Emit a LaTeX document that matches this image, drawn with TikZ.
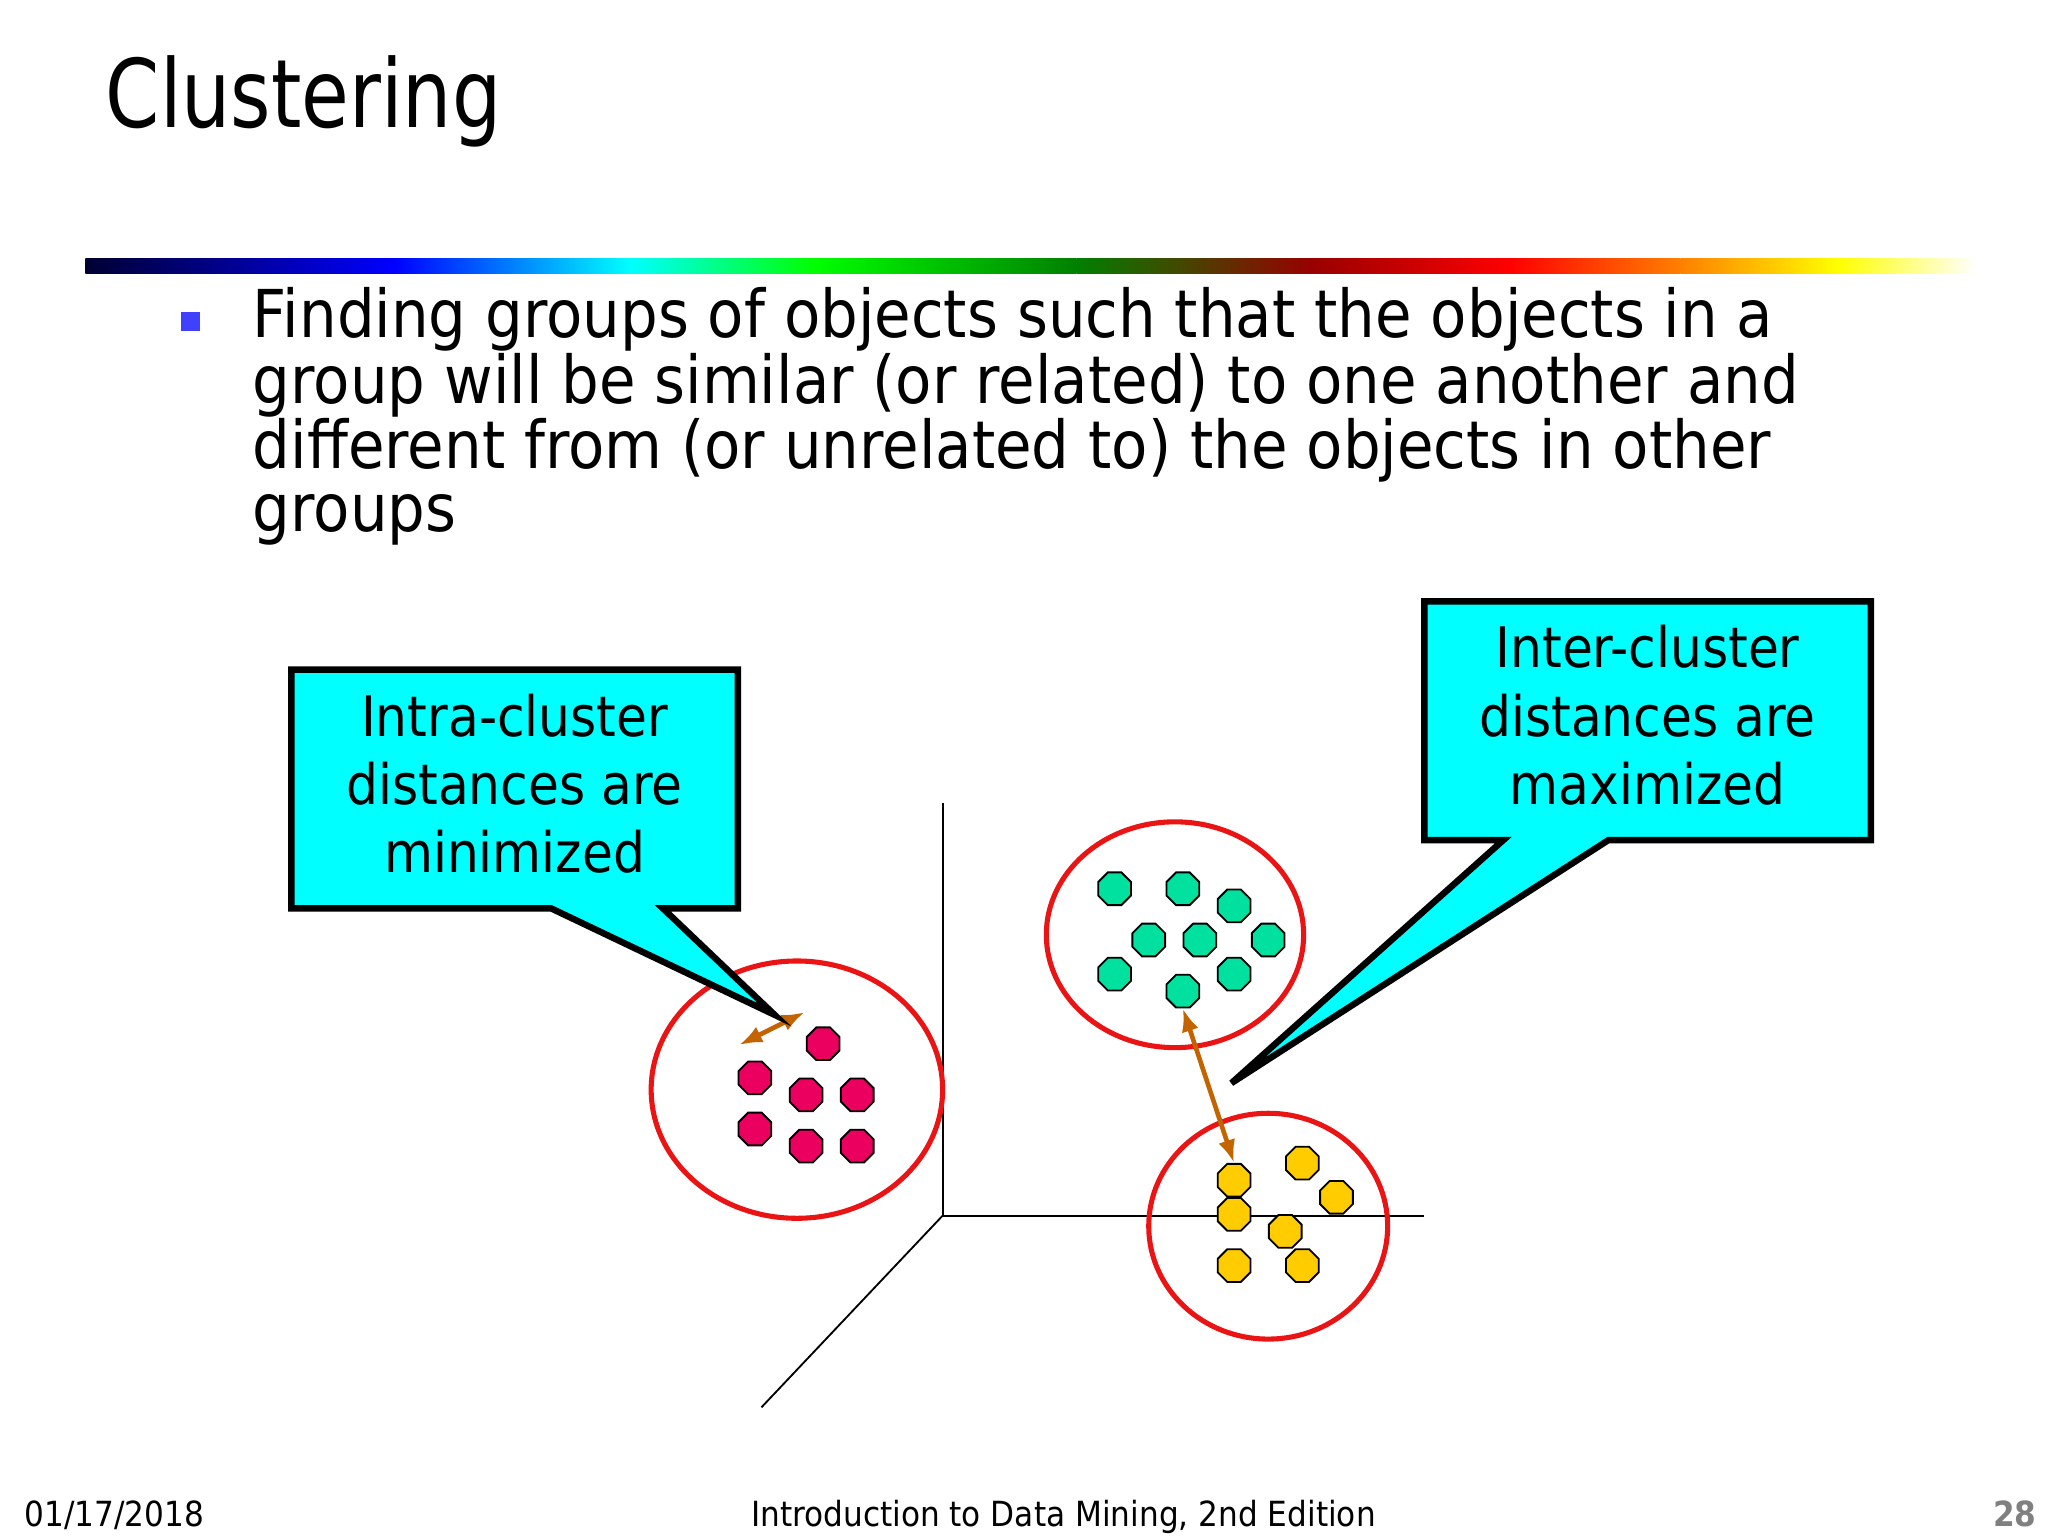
\documentclass[tikz,border=0pt]{standalone}
\usepackage{fontspec}
\setmainfont{DejaVu Sans}
\newfontfamily\slidefont[FakeStretch=0.9]{DejaVu Sans}
\newfontfamily\titlefont[FakeStretch=0.82]{DejaVu Sans}
\usetikzlibrary{shapes.geometric, arrows.meta, calc}
\definecolor{callcyan}{RGB}{0,255,255}
\definecolor{ptpink}{RGB}{235,0,95}
\definecolor{ptgreen}{RGB}{0,225,160}
\definecolor{ptyellow}{RGB}{255,204,0}
\definecolor{distarrow}{RGB}{195,100,0}
\definecolor{ringred}{RGB}{235,20,20}
\tikzset{
    octpt/.style={regular polygon, regular polygon sides=8, draw=black, thin, minimum size=27pt*0.01/0.03515, inner sep=0pt},
    ring/.style={draw=ringred, line width=1.1pt},
    callout/.style={fill=callcyan, draw=black, line width=1.4pt, line join=miter},
    calltext/.style={align=center, font=\slidefont\fontsize{12.1}{14.8}\selectfont},
    axisline/.style={black, thin},
    distline/.style={{Latex[length=5pt]}-{Latex[length=5pt]}, distarrow, line width=1pt},
    bodytext/.style={anchor=base west, inner sep=0pt, font=\slidefont\fontsize{14.3}{16}\selectfont},
    foot/.style={anchor=base, inner sep=0pt, font=\slidefont\fontsize{7.5}{9}\selectfont}
}
\begin{document}
\begin{tikzpicture}[x=0.01cm, y=-0.01cm]
    \useasboundingbox (0,0) rectangle (1560,1170);
    % title and rule
    \node[anchor=base west, inner sep=0pt, font=\titlefont\fontsize{20.5}{24}\selectfont] (title) at (80,97) {Clustering};
    \shade[left color=black!80!blue, right color=blue] (65,197) rectangle (300,208);
    \shade[left color=blue, right color=cyan] (300,197) rectangle (480,208);
    \shade[left color=cyan, right color=green] (480,197) rectangle (620,208);
    \shade[left color=green, right color=green!50!black] (620,197) rectangle (820,208);
    \shade[left color=green!50!black, right color=red!60!black] (820,197) rectangle (1000,208);
    \shade[left color=red!60!black, right color=red] (1000,197) rectangle (1150,208);
    \shade[left color=red, right color=orange] (1150,197) rectangle (1280,208);
    \shade[left color=orange, right color=yellow] (1280,197) rectangle (1400,208);
    \shade[left color=yellow, right color=white] (1400,197) rectangle (1505,208);
    % bullet
    \fill[blue!75!white] (138,238) rectangle (152,252);
    \node[bodytext] (l1) at (192,257) {Finding groups of objects such that the objects in a};
    \node[bodytext] (l2) at (192,307) {group will be similar (or related) to one another and};
    \node[bodytext] (l3) at (192,357) {different from (or unrelated to) the objects in other};
    \node[bodytext] (l4) at (192,405) {groups};
    % axes
    \coordinate (origin) at (718,926);
    \draw[axisline] (origin) -- (718,612);
    \draw[axisline] (origin) -- (1085,926);
    \draw[axisline] (origin) -- (580,1072);
    % clusters
    \draw[ring] (607,830) ellipse (111 and 98);
    \draw[ring] (895,712) ellipse (98 and 86);
    \draw[ring] (966,934) ellipse (91 and 86);
    \foreach \px/\py [count=\i] in {627/795,575/821,614/834,653/834,575/860,614/873,653/873}
        \node[octpt, fill=ptpink] (pk\i) at (\px,\py) {};
    \foreach \px/\py [count=\i] in {849/677,901/677,940/690,875/716,914/716,966/716,849/742,940/742,901/755}
        \node[octpt, fill=ptgreen] (gr\i) at (\px,\py) {};
    \foreach \px/\py [count=\i] in {940/899,992/886,1018/912,940/925,979/938,940/964,992/964}
        \node[octpt, fill=ptyellow] (yl\i) at (\px,\py) {};
    % distances
    \coordinate (intraA) at (563,796);
    \coordinate (intraB) at (613,771);
    \draw[distline] (intraA) -- (intraB);
    \draw[distline] (gr9.south) -- (yl1.north);
    % callouts
    \draw[callout] (222,510) -- (562,510) -- (562,692) -- (505,692) -- (590,773) -- (420,692) -- (222,692) -- cycle;
    \node[calltext] (intra) at (392,597) {Intra-cluster\\distances are\\minimized};
    \draw[callout] (1085,458) -- (1425,458) -- (1425,640) -- (1225,640) -- (938,825) -- (1145,640) -- (1085,640) -- cycle;
    \node[calltext] (inter) at (1255,545) {Inter-cluster\\distances are\\maximized};
    % footer
    \node[foot, anchor=base west] (date) at (18,1163) {01/17/2018};
    \node[foot] (book) at (810,1163) {Introduction to Data Mining, 2nd Edition};
    \node[foot, anchor=base east, text=gray, font=\slidefont\bfseries\fontsize{7.5}{9}\selectfont] (page) at (1552,1163) {28};
\end{tikzpicture}
\end{document}
